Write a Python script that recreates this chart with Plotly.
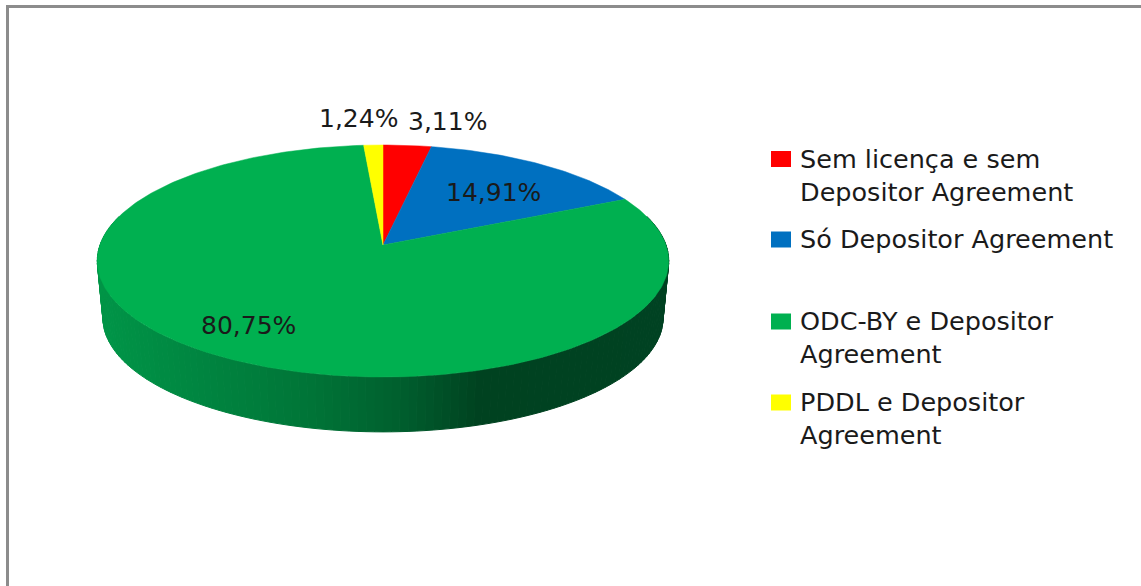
import math
import plotly.graph_objects as go

labels = ["Sem licença e sem<br>Depositor Agreement", "Só Depositor Agreement",
          "ODC-BY e Depositor<br>Agreement", "PDDL e Depositor<br>Agreement"]
values = [3.11, 14.91, 80.75, 1.24]
value_text = ["3,11%", "14,91%", "80,75%", "1,24%"]
colors = ["#FF0000", "#0070C0", "#00B050", "#FFFF00"]

W, H = 1141, 586
AX, AY = 383, 245        # apex of the pie
A, B_, K = 283, 113.8, 0.138
DROP, SHRINK = 57.5, 0.98
total = sum(values)


def top(theta, s=1.0, dy=0.0):
    d = 1 + K * math.cos(theta)
    return AX + s * A * math.sin(theta) / d, AY + dy - s * B_ * math.cos(theta) / d


fig = go.Figure()

# side wall: gradient of the green slice
wall_stops = [(90, (0, 150, 72)), (200, (0, 133, 64)), (300, (0, 118, 56)), (400, (0, 95, 46)),
              (480, (0, 66, 32)), (670, (0, 66, 34))]


def wall_color(x):
    for (x0, c0), (x1, c1) in zip(wall_stops, wall_stops[1:]):
        if x <= x1:
            t = max(0, (x - x0) / (x1 - x0))
            return "rgb(%d,%d,%d)" % tuple(round(a + (b - a) * t) for a, b in zip(c0, c1))
    return "rgb(%d,%d,%d)" % wall_stops[-1][1]


N = 140
lo, hi = math.radians(75), math.radians(285)
for i in range(N):
    t0 = lo + (hi - lo) * i / N
    t1 = lo + (hi - lo) * (i + 1) / N
    p = [top(t0), top(t1), top(t1, SHRINK, DROP), top(t0, SHRINK, DROP)]
    col = wall_color((p[0][0] + p[1][0]) / 2)
    fig.add_trace(go.Scatter(x=[q[0] for q in p] + [p[0][0]], y=[q[1] for q in p] + [p[0][1]],
                             mode="lines", fill="toself", fillcolor=col,
                             line=dict(color=col, width=1), hoverinfo="skip", showlegend=False))

# top face, one polygon per slice
cum = 0.0
for name, v, c in zip(labels, values, colors):
    start, end = cum / total * 2 * math.pi, (cum + v) / total * 2 * math.pi
    cum += v
    n = max(4, int(v * 4))
    pts = [top(start + (end - start) * j / n) for j in range(n + 1)]
    xs = [AX] + [q[0] for q in pts] + [AX]
    ys = [AY] + [q[1] for q in pts] + [AY]
    fig.add_trace(go.Scatter(x=xs, y=ys, mode="lines", fill="toself", fillcolor=c,
                             line=dict(color=c, width=0.5), name=name.replace("<br>", " "),
                             hovertemplate="%{fullData.name}<extra></extra>", showlegend=False))

# slice value labels
value_pos = [(447, 121), (493, 192), (248, 325), (358, 118)]
annotations = [dict(x=x, y=y, text=t, showarrow=False, xref="x", yref="y", xanchor="center",
                    yanchor="middle", font=dict(family="DejaVu Sans", size=25, color="#1A1A1A"))
               for t, (x, y) in zip(value_text, value_pos)]

# legend
swatch_y = [159, 239.5, 321.5, 402.5]
text_y = [175, 239, 337, 418.5]
shapes = [
    dict(type="rect", xref="x", yref="y", x0=6, x1=W + 2, y0=5, y1=8, fillcolor="#8C8C8C", line_width=0, layer="below"),
    dict(type="rect", xref="x", yref="y", x0=6, x1=9, y0=5, y1=H + 2, fillcolor="#8C8C8C", line_width=0, layer="below"),
]
for name, c, sy, ty in zip(labels, colors, swatch_y, text_y):
    shapes.append(dict(type="rect", xref="x", yref="y", x0=771, x1=791, y0=sy - 8, y1=sy + 8,
                       fillcolor=c, line_width=0))
    annotations.append(dict(x=798, y=ty, text=name, showarrow=False, xref="x", yref="y", xanchor="left",
                            yanchor="middle", align="left",
                            font=dict(family="DejaVu Sans", size=25.5, color="#1A1A1A")))

fig.update_layout(
    width=W, height=H, margin=dict(l=0, r=0, t=0, b=0),
    paper_bgcolor="white", plot_bgcolor="white", showlegend=False,
    xaxis=dict(range=[0, W], visible=False, fixedrange=True),
    yaxis=dict(range=[H, 0], visible=False, fixedrange=True),
    shapes=shapes, annotations=annotations,
)
fig.write_html("out.html", config={"displayModeBar": False},
               post_script="document.body.style.margin='0';")
